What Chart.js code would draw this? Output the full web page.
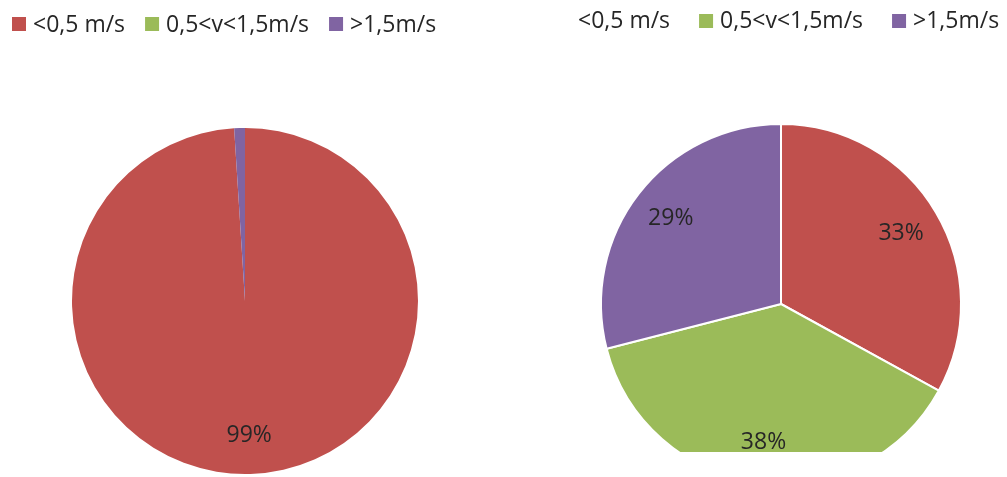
<!DOCTYPE html>
<html>
<head>
<meta charset="utf-8">
<script src="https://cdn.jsdelivr.net/npm/chart.js@4.4.1/dist/chart.umd.min.js"></script>
<style>
  html, body { margin: 0; padding: 0; background: #fff; }
  #wrap { position: relative; width: 1007px; height: 477px; overflow: hidden; }
  #leftBox { position: absolute; left: 0; top: 0; width: 500px; height: 477px; }
  #rightBox { position: absolute; left: 500px; top: 0; width: 507px; height: 452px; overflow: hidden; }
  canvas { display: block; }
</style>
</head>
<body>
<div id="wrap">
  <div id="leftBox"><canvas id="leftChart" width="500" height="477"></canvas></div>
  <div id="rightBox"><canvas id="rightChart" width="507" height="500"></canvas></div>
</div>
<script>
// Flow speed classes and their shares (%)
const categories = ['<0,5 m/s', '0,5<v<1,5m/s', '>1,5m/s'];
const leftValues = [99, 0, 1];
const rightValues = [33, 38, 29];

const sliceColors = ['#C0504D', '#9BBB59', '#8064A2'];
const FONT = '"Open Sans", "Liberation Sans", sans-serif';
const TEXT_COLOR = '#262626';

// Legend row drawn on the canvas: swatch + text, laid out left to right
const rowLegend = {
  id: 'rowLegend',
  afterDraw(chart, args, opts) {
    const ctx = chart.ctx;
    const labels = chart.data.labels;
    const colors = chart.data.datasets[0].backgroundColor;
    ctx.save();
    ctx.font = opts.fontSize + 'px ' + FONT;
    ctx.textBaseline = 'middle';
    ctx.textAlign = 'left';
    let x = opts.x;
    labels.forEach((label, i) => {
      if (opts.swatches[i]) {
        ctx.fillStyle = colors[i];
        ctx.fillRect(x, opts.y - opts.box / 2, opts.box, opts.box);
        x += opts.box + opts.boxGap;
      }
      ctx.fillStyle = TEXT_COLOR;
      ctx.fillText(label, x, opts.y + opts.textDy);
      x += ctx.measureText(label).width + opts.itemGap;
    });
    ctx.restore();
  }
};

// Percentage labels placed inside each slice along its middle angle
const sliceLabels = {
  id: 'sliceLabels',
  afterDatasetsDraw(chart, args, opts) {
    const ctx = chart.ctx;
    const meta = chart.getDatasetMeta(0);
    const values = chart.data.datasets[0].data;
    ctx.save();
    ctx.font = opts.fontSize + 'px ' + FONT;
    ctx.fillStyle = TEXT_COLOR;
    ctx.textAlign = 'center';
    ctx.textBaseline = 'middle';
    meta.data.forEach((arc, i) => {
      if (values[i] < 5) return;
      const p = arc.getProps(['x', 'y', 'startAngle', 'endAngle', 'outerRadius'], true);
      const mid = (p.startAngle + p.endAngle) / 2;
      const r = p.outerRadius * opts.offset;
      ctx.fillText(values[i] + '%', p.x + Math.cos(mid) * r, p.y + Math.sin(mid) * r);
    });
    ctx.restore();
  }
};

function makePie(id, values, borderWidth, padding, legendOpts) {
  return new Chart(document.getElementById(id), {
    type: 'pie',
    data: {
      labels: categories,
      datasets: [{
        data: values,
        backgroundColor: sliceColors,
        borderColor: '#ffffff',
        borderWidth: borderWidth
      }]
    },
    options: {
      responsive: false,
      devicePixelRatio: 1,
      animation: false,
      layout: { padding: padding },
      plugins: {
        legend: { display: false },
        tooltip: { enabled: false },
        rowLegend: legendOpts,
        sliceLabels: { fontSize: 23, offset: 0.775 }
      }
    },
    plugins: [rowLegend, sliceLabels]
  });
}

makePie('leftChart', leftValues, 0,
  { left: 72, right: 82, top: 128, bottom: 3 },
  { x: 12, y: 24, textDy: 1, box: 14, boxGap: 7, itemGap: 20, fontSize: 23, swatches: [true, true, true] });

makePie('rightChart', rightValues, 2,
  { left: 100, right: 45, top: 123, bottom: 15 },
  { x: 78, y: 21, textDy: 0, box: 14, boxGap: 7, itemGap: 29, fontSize: 23, swatches: [false, true, true] });
</script>
</body>
</html>
